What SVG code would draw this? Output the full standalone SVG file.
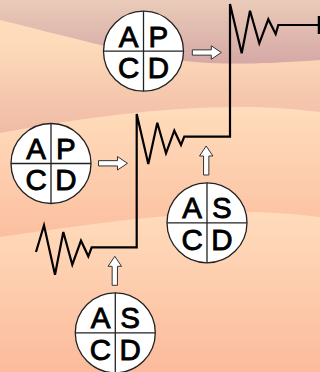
<svg xmlns="http://www.w3.org/2000/svg" width="320" height="372" viewBox="0 0 320 372">
<defs>
<linearGradient id="gA" gradientUnits="userSpaceOnUse" x1="0" y1="0" x2="0" y2="64"><stop offset="0" stop-color="#EACBB9"/><stop offset="1" stop-color="#D5A8A5"/></linearGradient>
<linearGradient id="gB" gradientUnits="userSpaceOnUse" x1="0" y1="40" x2="0" y2="134"><stop offset="0" stop-color="#FEDCBB"/><stop offset="1" stop-color="#F0BAA5"/></linearGradient>
<linearGradient id="gC" gradientUnits="userSpaceOnUse" x1="0" y1="107" x2="0" y2="238"><stop offset="0" stop-color="#FFDDBC"/><stop offset="1" stop-color="#FBBFA0"/></linearGradient>
<linearGradient id="gD" gradientUnits="userSpaceOnUse" x1="0" y1="212" x2="0" y2="372"><stop offset="0" stop-color="#FFDCBC"/><stop offset="1" stop-color="#FBBB9C"/></linearGradient>
<path id="arr" d="M0,-2.65 H19 V-6.7 L29,0 L19,6.7 V2.65 H0 Z"/>
</defs>
<style>
.circ{fill:#fff;stroke:#222;stroke-width:1.3}
.div{stroke:#222;stroke-width:1.3}
.lt{font-family:"Liberation Sans",Arial,sans-serif;font-size:29.5px;fill:#000;stroke:#000;stroke-width:0.9;text-anchor:middle}
.arrow{fill:#fff;stroke:#333;stroke-width:1}
.wire{fill:none;stroke:#000;stroke-width:2.2;stroke-linejoin:miter}
</style>
<g id="background">
<rect x="0" y="0" width="320" height="372" fill="url(#gD)"/>
<path d="M0,0 H320 V217 C300,215 280,212 240,212 C160,213 80,226 0,237 Z" fill="url(#gC)"/>
<path d="M0,0 H320 V112 C300,110 280,107 240,107 C160,107 80,118 0,133 Z" fill="url(#gB)"/>
<path d="M0,0 H320 V60 C300,61 260,65 210,63 C150,60 90,42 0,20 Z" fill="url(#gA)"/>
</g>
<g id="connectors">
<path class="wire" d="M36,252 L44,225.3 L55,274.7 L63.3,232 L72.3,264.7 L81,240.7 L88.3,256.3 L91.7,247.3 H136.7 V114 L148.3,164 L157.3,122.7 L166,153.3 L174.3,130.7 L181,145 L184.3,136.7 H230 V4 L241.7,53.3 L250,10.7 L259.3,43.3 L268.3,19.3 L275.7,34 L278.3,25 H319"/>
<line x1="319" y1="16" x2="319" y2="34" stroke="#000" stroke-width="2.5"/>
<use href="#arr" class="arrow" transform="translate(192.3,52.5)"/>
<use href="#arr" class="arrow" transform="translate(98.5,163.3)"/>
<use href="#arr" class="arrow" transform="translate(206.2,175) rotate(-90)"/>
<use href="#arr" class="arrow" transform="translate(114.8,285.3) rotate(-90)"/>
</g>
<g id="node1" transform="translate(143.5,51.2)">
<circle class="circ" r="40"/><line class="div" x1="-40" y1="0" x2="40" y2="0"/><line class="div" x1="0" y1="-40" x2="0" y2="40"/>
<text class="lt" x="-14.8" y="-4.7">A</text><text class="lt" x="14.8" y="-4.7">P</text><text class="lt" x="-14.8" y="26.8">C</text><text class="lt" x="14.8" y="26.8">D</text>
</g>
<g id="node2" transform="translate(51,163.5)">
<circle class="circ" r="40"/><line class="div" x1="-40" y1="0" x2="40" y2="0"/><line class="div" x1="0" y1="-40" x2="0" y2="40"/>
<text class="lt" x="-14.8" y="-4.7">A</text><text class="lt" x="14.8" y="-4.7">P</text><text class="lt" x="-14.8" y="26.8">C</text><text class="lt" x="14.8" y="26.8">D</text>
</g>
<g id="node3" transform="translate(207,222.8)">
<circle class="circ" r="40"/><line class="div" x1="-40" y1="0" x2="40" y2="0"/><line class="div" x1="0" y1="-40" x2="0" y2="40"/>
<text class="lt" x="-14.8" y="-4.7">A</text><text class="lt" x="14.8" y="-4.7">S</text><text class="lt" x="-14.8" y="26.8">C</text><text class="lt" x="14.8" y="26.8">D</text>
</g>
<g id="node4" transform="translate(115.3,332.8)">
<circle class="circ" r="40"/><line class="div" x1="-40" y1="0" x2="40" y2="0"/><line class="div" x1="0" y1="-40" x2="0" y2="40"/>
<text class="lt" x="-14.8" y="-4.7">A</text><text class="lt" x="14.8" y="-4.7">S</text><text class="lt" x="-14.8" y="26.8">C</text><text class="lt" x="14.8" y="26.8">D</text>
</g>
</svg>
